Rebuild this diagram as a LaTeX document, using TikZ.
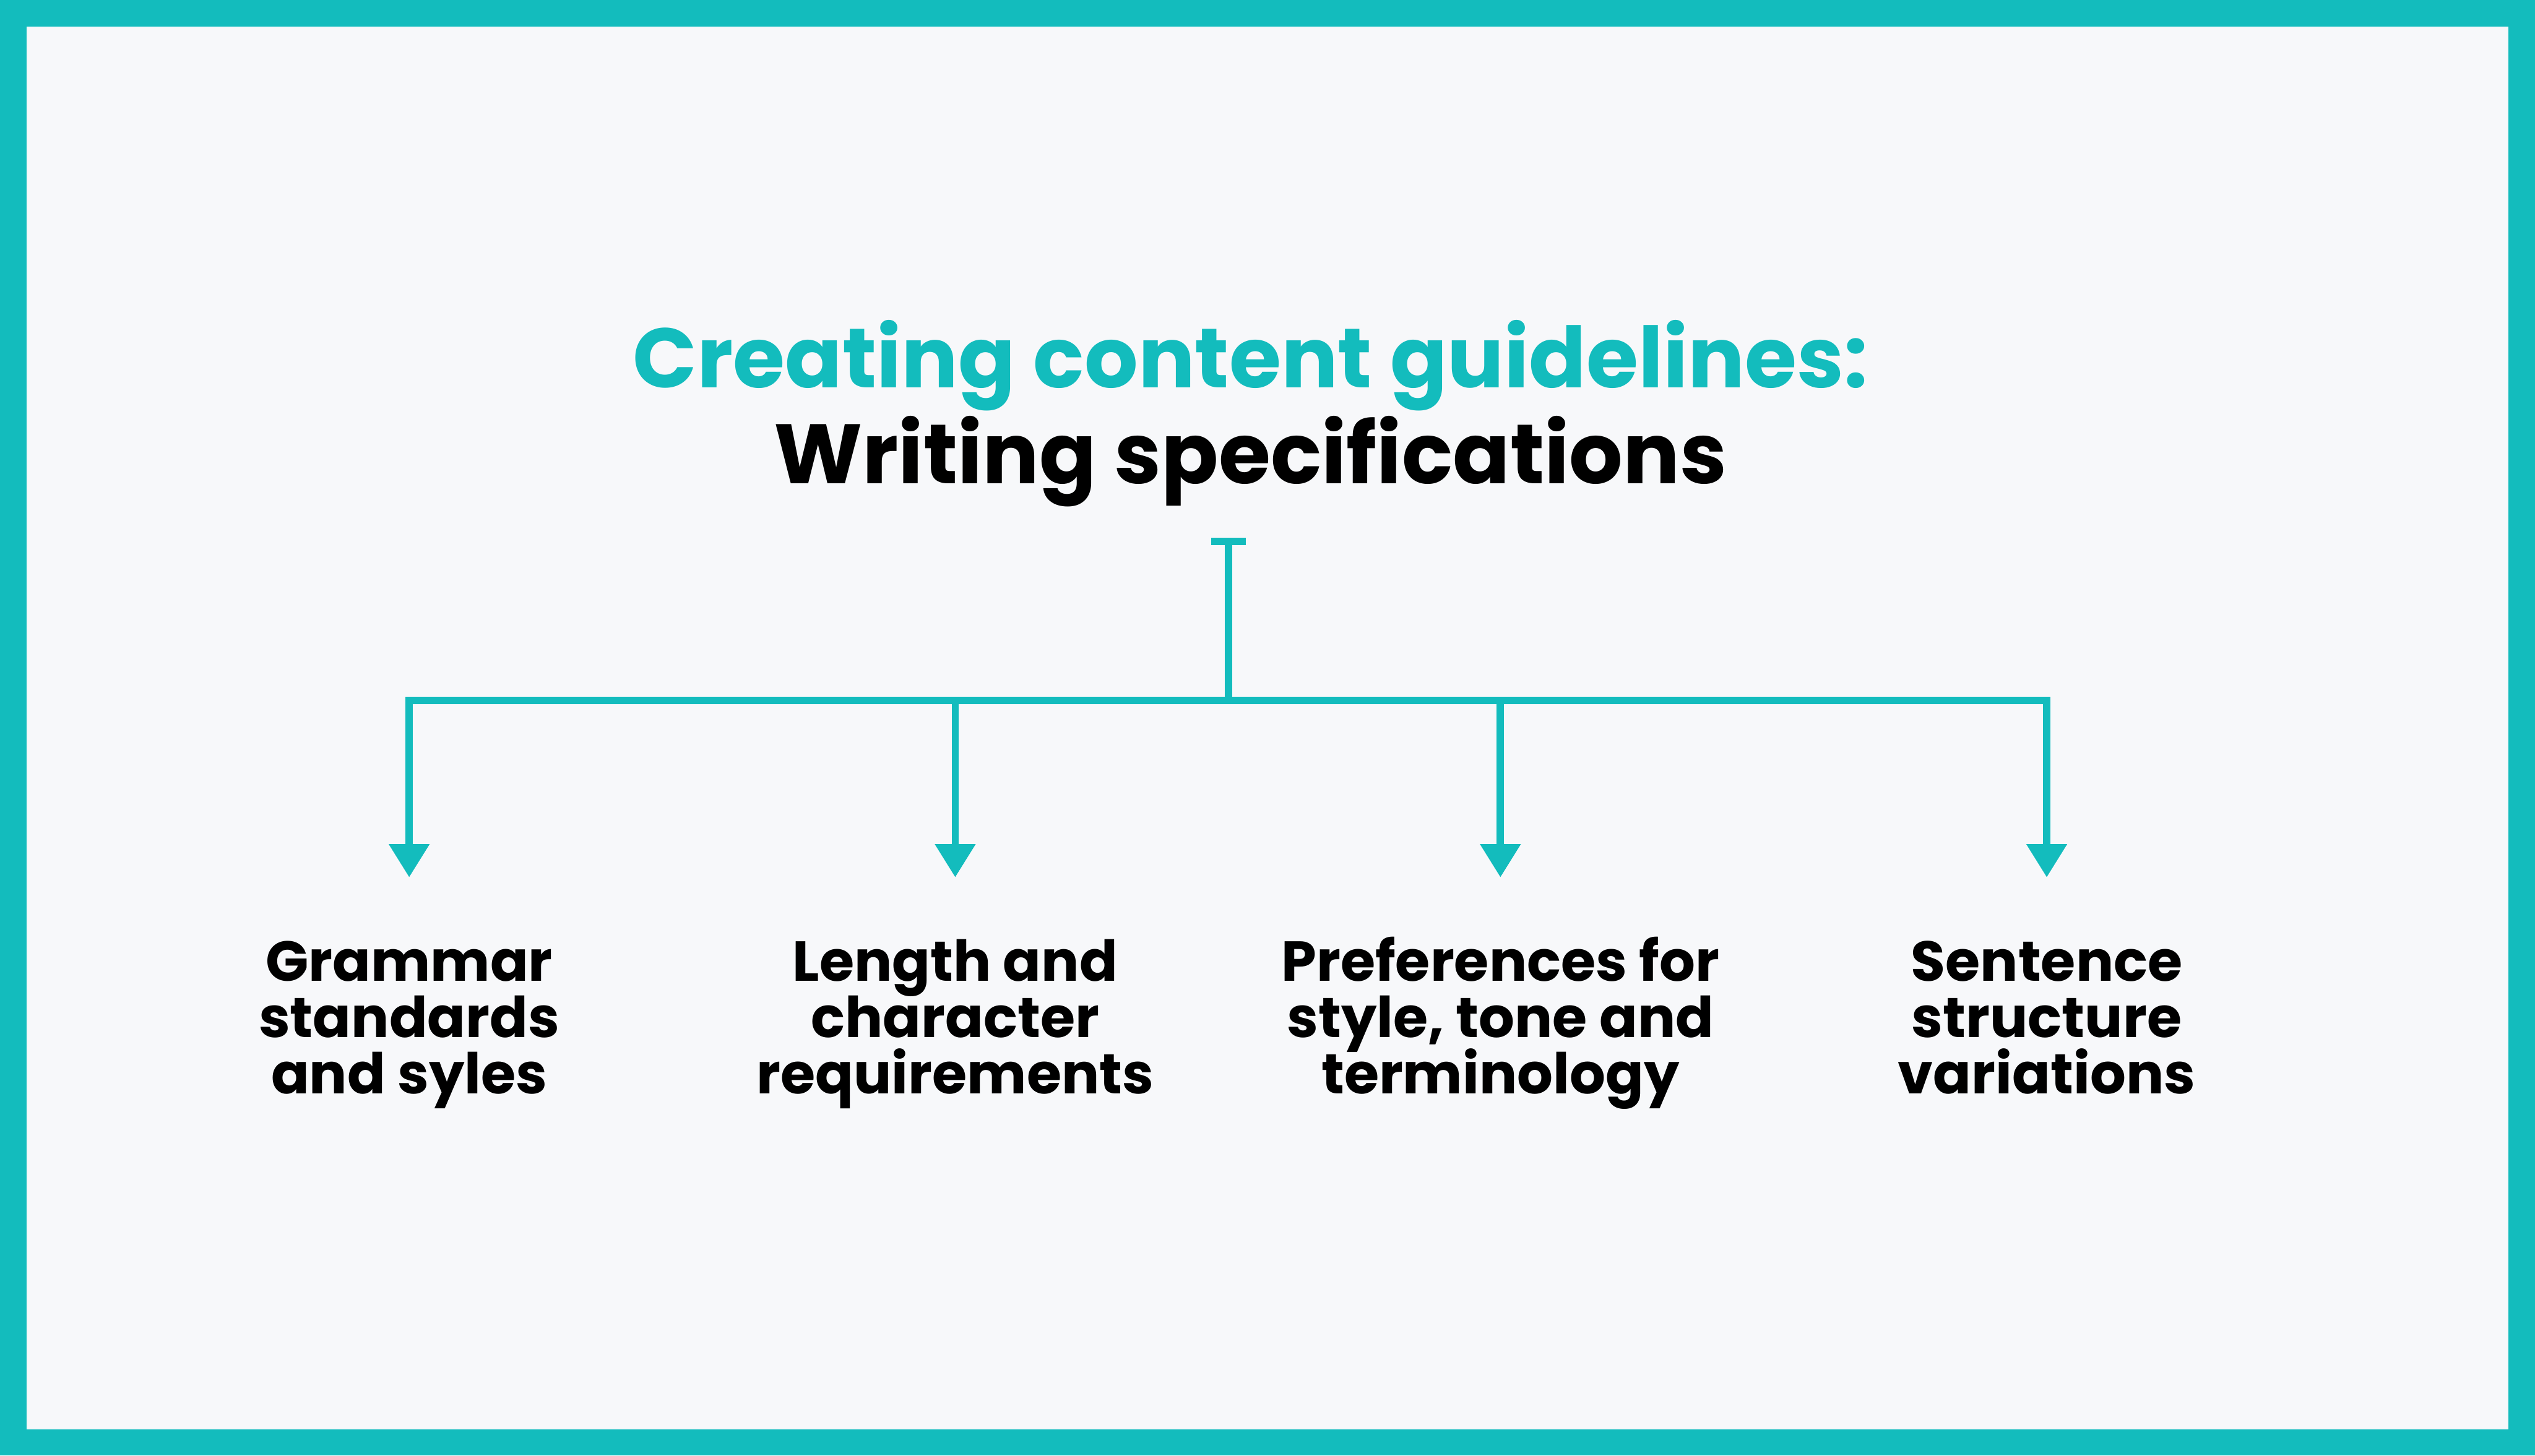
\documentclass[tikz,border=0pt]{standalone}
\usepackage{fontspec}
\setmainfont{Poppins}[BoldFont={* Bold}]
\newfontfamily\popb{Poppins Bold}
\usetikzlibrary{arrows.meta}
\definecolor{teal1}{HTML}{13BCBD}
\definecolor{bgc}{HTML}{F7F8FA}
\newcommand\nolskip{\lineskiplimit=-1000pt\relax}
\tikzset{
  conn/.style={draw=teal1, line width=0.13cm, line join=miter},
  arr/.style={conn, -{Triangle[width=0.69cm, length=0.59cm]}},
  lbl/.style={anchor=base, align=center, font=\popb\fontsize{28.45}{28.45}\selectfont\nolskip, text=black, inner sep=0pt},
  ttl/.style={anchor=base, align=center, font=\popb\fontsize{42.6}{48.65}\selectfont\nolskip, inner sep=0pt}
}
\begin{document}
\begin{tikzpicture}[x=1cm,y=1cm]
\useasboundingbox (0,0) rectangle (45.01,-25.85);
\fill[teal1] (0,0) rectangle (45.01,-25.85);
\fill[bgc] (0.47,-0.47) rectangle (44.54,-25.38);
% title (base anchor = last line baseline)
\node[ttl] (title) at (22.20,-8.59) {\textcolor{teal1}{Creating content guidelines:}\\Writing specifications};
% connectors
\coordinate (top) at (21.81,-9.615);
\coordinate (hub) at (21.81,-12.44);
\coordinate (a1) at (7.265,-15.58);
\coordinate (a2) at (16.96,-15.58);
\coordinate (a3) at (26.64,-15.58);
\coordinate (a4) at (36.34,-15.58);
\draw[conn] ([xshift=-0.31cm]top) -- ([xshift=0.31cm]top);
\draw[conn] (top) -- (hub);
\draw[arr] (hub) -| (a1);
\draw[arr] (hub) -| (a2);
\draw[arr] (hub) -| (a3);
\draw[arr] (hub) -| (a4);
% labels (base anchor = last line baseline)
\node[lbl] (n1) at (7.265,-19.42) {Grammar\\standards\\and syles};
\node[lbl] (n2) at (16.96,-19.42) {Length and\\character\\requirements};
\node[lbl] (n3) at (26.64,-19.42) {Preferences for\\style, tone and\\terminology};
\node[lbl] (n4) at (36.34,-19.42) {Sentence\\structure\\variations};
\end{tikzpicture}
\end{document}
